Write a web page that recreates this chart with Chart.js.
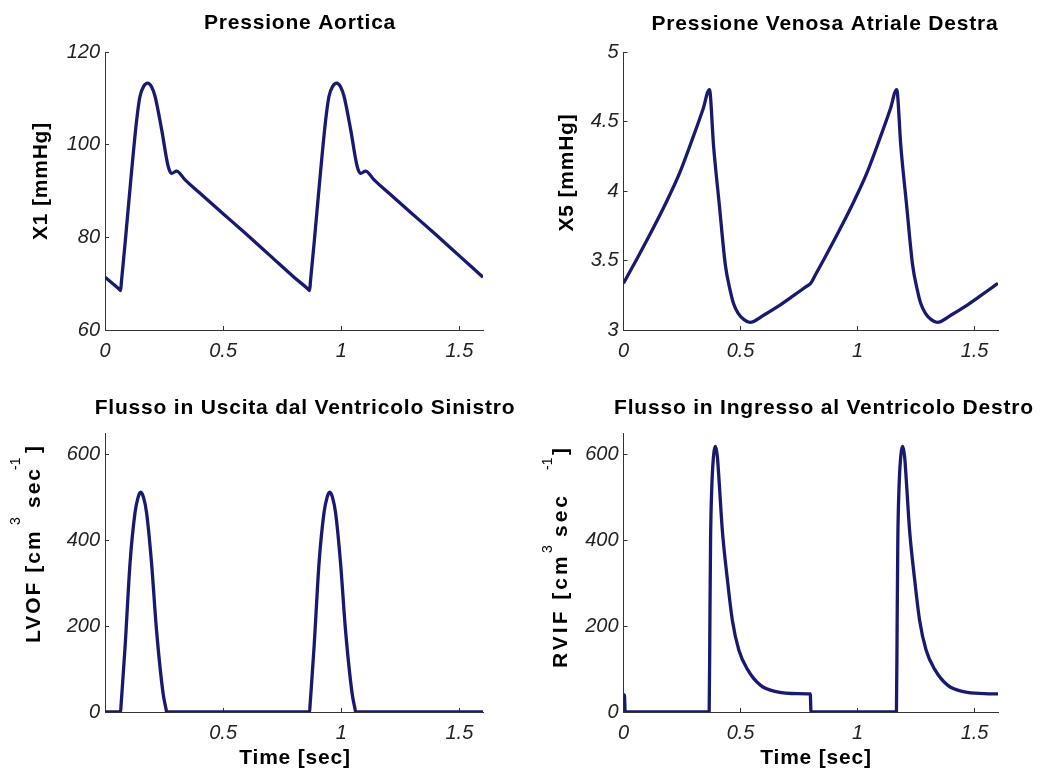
<!DOCTYPE html>
<html>
<head>
<meta charset="utf-8">
<script src="https://cdn.jsdelivr.net/npm/chart.js@4.4.1/dist/chart.umd.min.js"></script>
<style>
    html, body { margin: 0; padding: 0; background: #fff; }
    #wrap { position: relative; width: 1050px; height: 769px; overflow: hidden; background: #fff; }
    canvas { position: absolute; }
</style>
</head>
<body>
<div id="wrap">
    <canvas id="aortic" width="525" height="385" style="left:0;top:0"></canvas>
    <canvas id="venous" width="525" height="385" style="left:525px;top:0"></canvas>
    <canvas id="lvof" width="525" height="384" style="left:0;top:385px"></canvas>
    <canvas id="rvif" width="525" height="384" style="left:525px;top:385px"></canvas>
</div>
<script>
// Pressione aortica X1 [mmHg]
const aorticTime = [0, 0.058, 0.066, 0.070, 0.085, 0.113, 0.134, 0.148, 0.165, 0.181, 0.197, 0.212, 0.240, 0.268, 0.282, 0.303, 0.339, 0.40, 0.50, 0.60, 0.70, 0.80,
    0.858, 0.866, 0.870, 0.885, 0.913, 0.934, 0.948, 0.965, 0.981, 0.997, 1.012, 1.040, 1.068, 1.082, 1.103, 1.139, 1.20, 1.30, 1.40, 1.50, 1.60];
const aorticPressure = [71.4, 68.9, 68.5, 70.7, 78.7, 94.5, 105.3, 110.4, 112.7, 113.3, 112.5, 110.4, 103.2, 95.2, 93.8, 94.3, 92.4, 89.6, 85.1, 80.6, 76.0, 71.4,
    68.9, 68.5, 70.7, 78.7, 94.5, 105.3, 110.4, 112.7, 113.3, 112.5, 110.4, 103.2, 95.2, 93.8, 94.3, 92.4, 89.6, 85.1, 80.6, 76.0, 71.4];

// Pressione venosa atriale destra X5 [mmHg]
const venousTime = [0, 0.02, 0.06, 0.12, 0.18, 0.24, 0.30, 0.34, 0.367, 0.385, 0.41, 0.435, 0.455, 0.47, 0.49, 0.515, 0.54, 0.60, 0.66, 0.72, 0.78, 0.80,
    0.82, 0.86, 0.92, 0.98, 1.04, 1.10, 1.14, 1.167, 1.185, 1.21, 1.235, 1.255, 1.27, 1.29, 1.315, 1.34, 1.40, 1.46, 1.52, 1.58, 1.60];
const venousPressure = [3.336, 3.397, 3.52, 3.71, 3.91, 4.13, 4.40, 4.59, 4.73, 4.32, 3.89, 3.47, 3.29, 3.19, 3.12, 3.075, 3.055, 3.108, 3.17, 3.24, 3.312, 3.336,
    3.397, 3.52, 3.71, 3.91, 4.13, 4.40, 4.59, 4.73, 4.32, 3.89, 3.47, 3.29, 3.19, 3.12, 3.075, 3.055, 3.108, 3.17, 3.24, 3.312, 3.336];

// Flusso in uscita dal ventricolo sinistro LVOF
const lvofTime = [0, 0.066, 0.068, 0.085, 0.106, 0.127, 0.140, 0.151, 0.163, 0.176, 0.197, 0.218, 0.246, 0.258, 0.261,
    0.866, 0.868, 0.885, 0.906, 0.927, 0.940, 0.951, 0.963, 0.976, 0.997, 1.018, 1.046, 1.058, 1.061, 1.60];
const lvofFlow = [0, 0, 16, 152, 347, 464, 500, 512, 500, 464, 347, 191, 43, 8, 0,
    0, 16, 152, 347, 464, 500, 512, 500, 464, 347, 191, 43, 8, 0, 0];

// Flusso in ingresso al ventricolo destro RVIF
const rvifTime = [0, 0.004, 0.007, 0.366, 0.369, 0.372, 0.377, 0.383, 0.393, 0.401, 0.408, 0.422, 0.444, 0.465, 0.493, 0.529, 0.586, 0.657, 0.742, 0.798, 0.801,
    1.166, 1.169, 1.172, 1.177, 1.183, 1.193, 1.201, 1.208, 1.222, 1.244, 1.265, 1.293, 1.329, 1.386, 1.457, 1.542, 1.60];
const rvifFlow = [40, 40, 0, 0, 200, 400, 520, 585, 619, 595, 542, 425, 308, 214, 144, 100, 62, 47, 43, 42, 0,
    0, 200, 400, 520, 585, 619, 595, 542, 425, 308, 214, 144, 100, 62, 47, 43, 42];

// ticks
const timeTicks = [0, 0.5, 1, 1.5];
const timeTickLabels = ["0", "0.5", "1", "1.5"];
const timeTickLabelsLvof = ["", "0.5", "1", "1.5"];
const aorticTicks = [60, 80, 100, 120];
const venousTicks = [3, 3.5, 4, 4.5, 5];
const flowTicks = [0, 200, 400, 600];

const LINE_COLOR = "#191970";
const AXIS_COLOR = "#333";
const TEXT_FONT = '"Liberation Sans", Arial, Helvetica, sans-serif';

function toPoints(xs, ys) {
    return xs.map((x, i) => ({ x: x, y: ys[i] }));
}

// titles and axis labels drawn on the canvas (superscripts need it)
const panelText = {
    id: "panelText",
    afterDraw(chart, args, opts) {
        const ctx = chart.ctx;
        ctx.save();
        ctx.fillStyle = "#000";
        ctx.textBaseline = "middle";
        ctx.textAlign = "center";
        ctx.font = "bold 21px " + TEXT_FONT;
        ctx.letterSpacing = "0.8px";
        ctx.fillText(opts.title, opts.titleX, opts.titleY);
        if (opts.xLabel) ctx.fillText(opts.xLabel, opts.xLabelX, opts.xLabelY);

        opts.yParts.forEach(p => {
            ctx.save();
            ctx.translate(p.x, p.y);
            ctx.rotate(-Math.PI / 2);
            ctx.font = p.sup ? "14px " + TEXT_FONT : "bold 21px " + TEXT_FONT;
            ctx.letterSpacing = (p.spacing !== undefined ? p.spacing : 0.8) + "px";
            ctx.textAlign = p.align || "left";
            ctx.fillText(p.text, 0, 0);
            ctx.restore();
        });
        ctx.restore();
    }
};

function makePanel(id, cfg) {
    const ctx = document.getElementById(id).getContext("2d");
    return new Chart(ctx, {
        type: "line",
        data: {
            datasets: [{
                data: toPoints(cfg.x, cfg.y),
                borderColor: LINE_COLOR,
                borderWidth: 3.3,
                pointRadius: 0,
                fill: false,
                cubicInterpolationMode: "monotone"
            }]
        },
        options: {
            responsive: false,
            animation: false,
            layout: { padding: cfg.padding },
            plugins: {
                legend: { display: false },
                tooltip: { enabled: false },
                panelText: cfg.text
            },
            scales: {
                x: {
                    type: "linear",
                    min: 0,
                    max: 1.6,
                    afterBuildTicks: s => { s.ticks = timeTicks.map(v => ({ value: v })); },
                    afterFit: s => { s.height = cfg.xHeight; },
                    border: { display: true, color: AXIS_COLOR, width: 1 },
                    grid: { drawOnChartArea: false, drawTicks: true, tickLength: -4, color: AXIS_COLOR },
                    ticks: {
                        padding: 13,
                        maxRotation: 0,
                        color: "#222",
                        font: { family: TEXT_FONT, size: 20, style: "italic" },
                        callback: (v, i) => cfg.xLabels[i]
                    }
                },
                y: {
                    min: cfg.yTicks[0],
                    max: cfg.yMax,
                    afterBuildTicks: s => { s.ticks = cfg.yTicks.map(v => ({ value: v })); },
                    afterFit: s => { s.width = cfg.yWidth; },
                    border: { display: true, color: AXIS_COLOR, width: 1 },
                    grid: { drawOnChartArea: false, drawTicks: true, tickLength: -4, color: AXIS_COLOR },
                    ticks: {
                        padding: 9,
                        color: "#222",
                        font: { family: TEXT_FONT, size: 20, style: "italic" },
                        callback: v => String(v)
                    }
                }
            }
        },
        plugins: [panelText]
    });
}

makePanel("aortic", {
    x: aorticTime, y: aorticPressure,
    yTicks: aorticTicks, yMax: 120, xLabels: timeTickLabels,
    padding: { top: 52, right: 42, left: 0, bottom: 0 },
    yWidth: 105, xHeight: 55,
    text: {
        title: "Pressione Aortica", titleX: 300, titleY: 23.5,
        yParts: [{ text: "X1 [mmHg]", x: 41.7, y: 181, align: "center" }]
    }
});

makePanel("venous", {
    x: venousTime, y: venousPressure,
    yTicks: venousTicks, yMax: 5, xLabels: timeTickLabels,
    padding: { top: 52, right: 52, left: 0, bottom: 0 },
    yWidth: 98.5, xHeight: 55,
    text: {
        title: "Pressione Venosa Atriale Destra", titleX: 300, titleY: 24.5,
        yParts: [{ text: "X5 [mmHg]", x: 42.3, y: 172.5, align: "center" }]
    }
});

makePanel("lvof", {
    x: lvofTime, y: lvofFlow,
    yTicks: flowTicks, yMax: 650, xLabels: timeTickLabelsLvof,
    padding: { top: 48, right: 42, left: 0, bottom: 0 },
    yWidth: 105, xHeight: 57,
    text: {
        title: "Flusso in Uscita dal Ventricolo Sinistro", titleX: 305, titleY: 23,
        xLabel: "Time [sec]", xLabelX: 295, xLabelY: 373,
        yParts: [
            { text: "LVOF [cm", x: 34, y: 258, spacing: 2 },
            { text: "3", x: 16.3, y: 140, sup: true, spacing: 0 },
            { text: "sec", x: 34, y: 123, spacing: 2 },
            { text: "-1", x: 16, y: 85, sup: true, spacing: 0 },
            { text: "]", x: 34, y: 68, spacing: 0 }
        ]
    }
});

makePanel("rvif", {
    x: rvifTime, y: rvifFlow,
    yTicks: flowTicks, yMax: 650, xLabels: timeTickLabels,
    padding: { top: 48, right: 52, left: 0, bottom: 0 },
    yWidth: 98.5, xHeight: 57,
    text: {
        title: "Flusso in Ingresso al Ventricolo Destro", titleX: 299, titleY: 23,
        xLabel: "Time [sec]", xLabelX: 291, xLabelY: 373,
        yParts: [
            { text: "RVIF [cm", x: 35.8, y: 283, spacing: 3 },
            { text: "3", x: 23, y: 168, sup: true, spacing: 0 },
            { text: "sec", x: 35.8, y: 152, spacing: 3 },
            { text: "-1", x: 23, y: 85, sup: true, spacing: 0 },
            { text: "]", x: 35.8, y: 70, spacing: 0 }
        ]
    }
});
</script>
</body>
</html>
